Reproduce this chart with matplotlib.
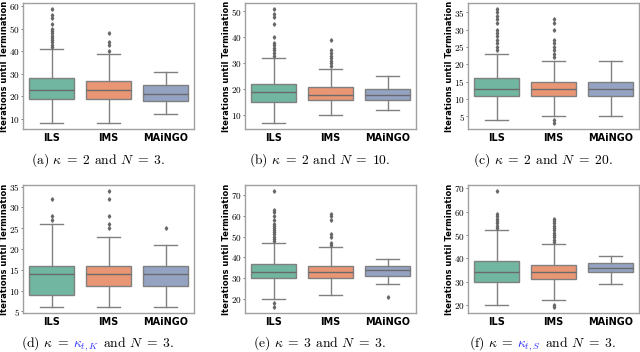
import matplotlib
matplotlib.use("Agg")
import matplotlib.pyplot as plt
from matplotlib.ticker import MaxNLocator

plt.rcParams["mathtext.fontset"] = "cm"
plt.rcParams["axes.formatter.use_mathtext"] = True
plt.rcParams["axes.unicode_minus"] = False

methods = ["ILS", "IMS", "MAiNGO"]
box_colors = ["#71b6a0", "#e99675", "#95a3c3"]

# five-number summaries per method: [low whisker, q1, median, q3, high whisker]
stats_a = [[8, 19, 23, 28, 41], [8, 19, 23, 27, 39], [12, 18, 21, 25, 31]]
fliers_a = [[42, 43, 44, 45, 46, 47, 48, 49, 50, 52, 55, 56, 59], [40, 43, 44, 48], []]

stats_b = [[7, 15, 19, 22, 32], [10, 16, 18, 21, 28], [12, 16, 18, 20, 25]]
fliers_b = [[33, 34, 35, 36, 37, 38, 40, 45, 48, 49, 51], [29, 30, 31, 32, 33, 34, 35, 39], []]

stats_c = [[4, 11, 13, 16, 23], [5, 11, 13, 15, 21], [5, 11, 13, 15, 21]]
fliers_c = [[24, 25, 26, 27, 28, 29, 30, 32, 33, 34, 35, 36],
            [3, 4, 22, 23, 24, 25, 26, 27, 30, 32, 33], []]

stats_d = [[6, 9, 14, 16, 26], [6, 11, 14, 16, 23], [6, 11, 14, 16, 21]]
fliers_d = [[27, 28, 32], [25, 26, 28, 32, 34], [25]]

stats_e = [[20, 30, 33, 37, 47], [22, 30, 33, 36, 45], [27, 31, 34, 36, 39]]
fliers_e = [[16, 18, 48, 49, 50, 51, 52, 53, 54, 55, 56, 58, 60, 62, 63, 72],
            [46, 47, 50, 51, 58, 60, 61], [21]]

stats_f = [[20, 30, 34, 39, 52], [22, 31, 34, 37, 46], [29, 34, 36, 38, 41]]
fliers_f = [[53, 54, 55, 56, 57, 58, 59, 69],
            [19, 20, 47, 48, 49, 50, 51, 52, 53, 54, 55, 56, 57], []]

captions = [
    [("(a) $\\kappa\\;=\\;2$ and $N\\;=\\;3$.", "black")],
    [("(b) $\\kappa\\;=\\;2$ and $N\\;=\\;10$.", "black")],
    [("(c) $\\kappa\\;=\\;2$ and $N\\;=\\;20$.", "black")],
    [("(d) $\\kappa\\;=$", "black"), ("$\\kappa_{t,K}$", "#3333ff"), ("and $N\\;=\\;3$.", "black")],
    [("(e) $\\kappa\\;=\\;3$ and $N\\;=\\;3$.", "black")],
    [("(f) $\\kappa\\;=$", "black"), ("$\\kappa_{t,S}$", "#3333ff"), ("and $N\\;=\\;3$.", "black")],
]

all_stats = [stats_a, stats_b, stats_c, stats_d, stats_e, stats_f]
all_fliers = [fliers_a, fliers_b, fliers_c, fliers_d, fliers_e, fliers_f]

W, H = 640, 352
fig = plt.figure(figsize=(W / 100, H / 100), dpi=100)

lefts = [23, 245, 468]
rows = [(3, 129), (185, 313)]
cap_y = [164, 347]
line_c = "#808080"

for i in range(6):
    r, c = divmod(i, 3)
    top, bot = rows[r]
    ax = fig.add_axes([lefts[c] / W, 1 - bot / H, 171 / W, (bot - top) / H])
    bxp_stats = []
    for m, s, f in zip(methods, all_stats[i], all_fliers[i]):
        bxp_stats.append(dict(label=m, whislo=s[0], q1=s[1], med=s[2], q3=s[3],
                              whishi=s[4], fliers=f))
    art = ax.bxp(bxp_stats, positions=range(3), widths=0.8, patch_artist=True,
                 boxprops=dict(edgecolor=line_c, linewidth=1.0),
                 whiskerprops=dict(color=line_c, linewidth=1.0),
                 capprops=dict(color=line_c, linewidth=1.0),
                 medianprops=dict(color="#6a6a6a", linewidth=1.0),
                 flierprops=dict(marker="d", markersize=1.8, markerfacecolor="#666666",
                                 markeredgecolor="#666666", linestyle="none"),
                 capwidths=0.4)
    for patch, col in zip(art["boxes"], box_colors):
        patch.set_facecolor(col)
    ax.set_xlim(-0.5, 2.5)
    ax.yaxis.set_major_locator(MaxNLocator(nbins=8, steps=[1, 2, 5, 10]))
    for sp in ax.spines.values():
        sp.set_color("#a0a0a0")
        sp.set_linewidth(1.0)
    ax.tick_params(axis="x", length=0, pad=3, labelsize=7)
    ax.tick_params(axis="y", length=1.6, width=0.7, color="#808080", pad=0.6,
                   labelsize=6.6)
    for lab in ax.get_xticklabels():
        lab.set_fontfamily("DejaVu Sans")
        lab.set_fontweight("bold")
    for lab in ax.get_yticklabels():
        lab.set_fontfamily("cmr10")
    ax.set_ylabel("Iterations until Termination", fontsize=6.0, fontweight="bold",
                  fontfamily="DejaVu Sans")
    ax.yaxis.set_label_coords(-14 / 171, 0.5)

# captions, built piece by piece so the kappa symbol can be coloured
fig.canvas.draw()
renderer = fig.canvas.get_renderer()
fs = 9.8
em = fs * 100 / 72
for i, parts in enumerate(captions):
    r, c = divmod(i, 3)
    xc = lefts[c] + 171 / 2 - 11
    y = 1 - cap_y[r] / H
    texts = []
    for s, col in parts:
        texts.append(fig.text(0, y, s, fontsize=fs, fontfamily="cmr10", color=col,
                              va="baseline", ha="left"))
    gaps = [0.28 * em, 0.33 * em][: len(texts) - 1]
    widths = [t.get_window_extent(renderer).width for t in texts]
    total = sum(widths) + sum(gaps)
    x = xc - total / 2
    for k, t in enumerate(texts):
        t.set_x(x / W)
        x += widths[k] + (gaps[k] if k < len(gaps) else 0)

fig.savefig("out.png", dpi=100)
